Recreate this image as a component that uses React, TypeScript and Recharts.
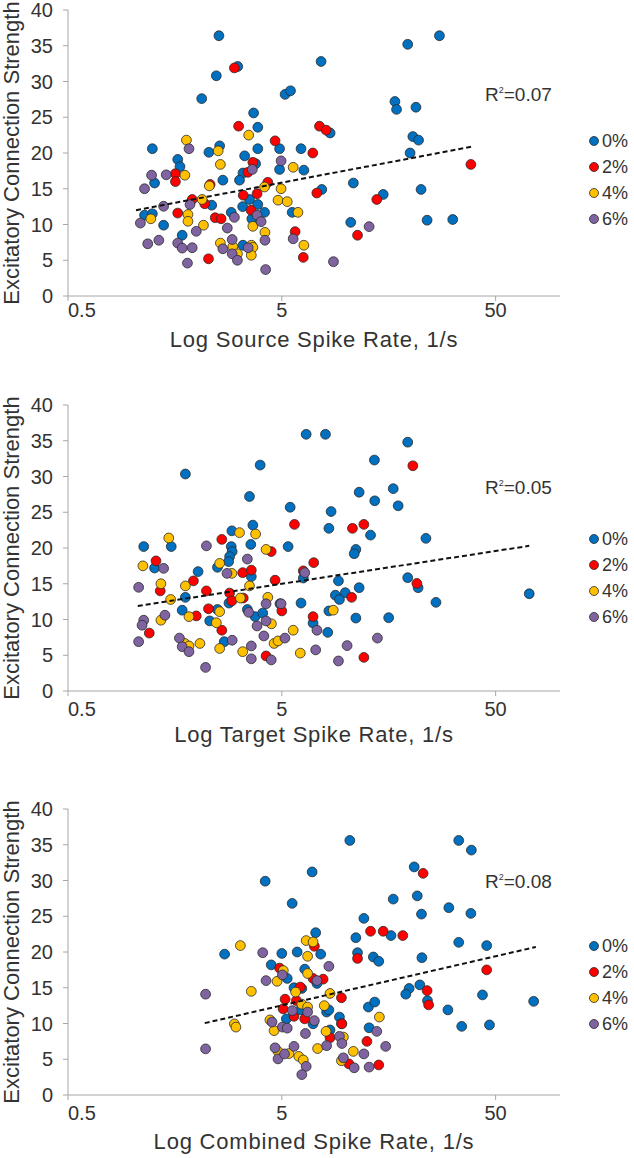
import React from 'react';
import { ScatterChart, Scatter, XAxis, YAxis, Legend, Label } from 'recharts';

const FONT = '"Liberation Sans", Arial, Helvetica, sans-serif';
const TEXT = '#333333';
const AXIS = '#a6a6a6';

const SERIES_NAMES = ['0%', '2%', '4%', '6%'];
const SERIES_COLORS = ['#0070C0', '#FF0000', '#FFC000', '#8064A2'];
const X_TICKS = [0.5, 5, 50];
const Y_TICKS = [0, 5, 10, 15, 20, 25, 30, 35, 40];
const Y_TITLE = 'Excitatory Connection Strength';
const X_TITLES = ['Log Source Spike Rate, 1/s', 'Log Target Spike Rate, 1/s', 'Log Combined Spike Rate, 1/s'];
const R2_VALUES = ['0.07', '0.05', '0.08'];

type Pt = [number, number];

// Panel 1: source spike rate
const sourceRate0: Pt[] = [[2.54,36.4],[3.11,32.1],[2.47,30.8],[2.11,27.6],[3.69,25.6],[3.86,23.6],[3.86,20.6],[1.24,20.6],[1.63,19.1],[1.67,18.1],[2.28,20.1],[2.56,21.0],[3.35,19.6],[3.77,18.5],[3.29,17.2],[3.17,16.2],[2.65,16.2],[1.27,15.8],[1.14,11.3],[1.24,11.5],[1.40,9.9],[1.71,8.5],[2.35,12.7],[2.90,11.7],[3.28,12.5],[3.53,13.5],[3.86,12.8],[4.15,11.7],[3.62,10.8],[3.29,7.1],[4.88,20.6],[4.88,17.7],[5.18,28.2],[5.49,28.7],[6.15,20.6],[6.34,17.6],[5.59,11.7],[7.63,32.8],[19.4,35.2],[27.3,36.4],[16.9,27.2],[17.2,26.1],[21.2,26.4],[20.5,22.3],[21.8,21.8],[19.9,20.0],[8.41,22.8],[7.69,14.9],[10.8,15.8],[14.9,14.2],[22.4,14.9],[10.5,10.3],[23.9,10.6],[31.5,10.7]];
const sourceRate2: Pt[] = [[3.0,31.9],[3.14,23.75],[4.65,21.7],[3.66,18.7],[3.47,17.3],[4.30,15.9],[1.59,17.1],[1.59,16.0],[2.31,15.6],[1.905,13.5],[2.18,12.9],[1.63,11.6],[3.30,14.1],[3.83,14.3],[3.59,12.0],[2.44,10.95],[2.6,10.8],[2.27,5.2],[5.77,9.0],[6.3,5.4],[7.29,14.4],[6.98,20.0],[7.5,23.75],[8.06,23.2],[13.9,13.5],[11.3,8.5],[38.3,18.4]];
const sourceRate4: Pt[] = [[1.79,21.8],[3.5,22.5],[2.52,20.3],[2.58,18.4],[1.76,16.9],[2.29,15.4],[2.12,13.5],[1.22,10.8],[1.82,11.4],[1.82,10.45],[2.15,9.9],[2.58,7.4],[2.95,6.9],[3.1,5.9],[3.6,7.1],[3.66,6.8],[3.6,5.7],[3.66,9.75],[4.17,8.9],[4.15,15.25],[4.96,15.0],[4.8,13.4],[5.3,13.2],[5.65,18.0],[5.95,11.7],[6.34,7.1]];
const sourceRate6: Pt[] = [[1.84,20.6],[1.23,16.9],[1.44,16.95],[1.14,15.0],[1.40,12.55],[1.09,10.2],[1.18,7.3],[1.33,7.8],[1.63,7.4],[1.71,6.7],[1.905,6.75],[1.81,4.6],[1.99,9.05],[1.86,12.8],[2.65,6.6],[2.93,5.9],[2.78,9.5],[3.0,11.0],[2.93,7.9],[3.1,5.0],[3.48,6.75],[3.83,11.3],[4.0,10.4],[4.17,7.8],[4.2,3.7],[3.64,17.7],[4.96,18.9],[5.65,8.0],[12.8,9.7],[8.72,4.8]];
const sourceTrend: Pt[] = [[1.04,12.0],[39.0,20.9]];

// Panel 2: target spike rate
const targetRate0: Pt[] = [[1.77,30.35],[6.5,35.9],[8.0,35.9],[3.96,31.6],[3.53,27.2],[5.47,25.7],[3.66,23.2],[2.92,22.4],[3.58,20.5],[5.35,20.2],[1.13,20.2],[1.52,20.2],[2.9,20.2],[2.93,19.5],[2.85,18.8],[2.82,18.1],[1.27,17.2],[2.03,16.7],[2.5,17.3],[3.6,16.0],[1.77,13.1],[1.71,11.3],[2.3,9.8],[2.5,11.4],[2.83,12.3],[2.69,6.9],[3.45,11.4],[3.75,10.4],[4.07,10.9],[4.9,12.2],[6.15,12.3],[7.0,9.5],[13.55,32.3],[19.4,34.8],[11.5,27.8],[16.6,28.3],[13.6,26.6],[17.5,25.9],[8.5,25.1],[8.3,22.75],[13.0,21.8],[23.6,21.35],[11.1,19.8],[10.9,19.2],[6.3,15.8],[9.2,15.4],[19.4,15.85],[21.7,14.45],[11.5,14.45],[8.9,13.4],[9.9,13.75],[9.3,12.8],[26.3,12.4],[71.8,13.6],[8.3,11.2],[8.2,8.2],[11.1,10.2],[15.8,10.25]];
const targetRate2: Pt[] = [[2.62,21.2],[1.29,18.2],[1.35,14.0],[1.93,15.4],[2.22,14.0],[1.20,8.1],[1.99,10.5],[2.27,11.5],[2.62,8.5],[2.85,13.7],[2.92,12.6],[3.28,16.55],[3.6,16.9],[3.3,13.0],[4.46,19.5],[4.65,15.5],[5.0,11.2],[5.73,23.3],[7.05,17.95],[7.0,10.4],[6.3,16.8],[4.22,4.9],[20.5,31.5],[10.7,22.75],[12.1,23.3],[21.4,15.05],[10.6,13.1],[12.1,4.7]];
const targetRate4: Pt[] = [[1.48,21.4],[1.12,17.5],[1.36,15.0],[1.51,12.8],[1.36,9.9],[1.77,14.7],[1.84,10.4],[1.76,6.65],[1.84,6.3],[2.07,6.65],[2.56,17.85],[2.92,16.45],[2.56,11.1],[2.47,9.55],[2.56,5.95],[3.17,22.15],[3.77,21.95],[4.22,19.8],[3.53,14.7],[3.2,13.0],[4.3,13.1],[4.47,9.4],[3.28,5.5],[4.6,6.65],[4.8,7.0],[5.65,8.5],[6.1,5.3],[8.7,11.3]];
const targetRate6: Pt[] = [[1.07,14.5],[1.13,9.9],[1.11,9.2],[1.07,6.9],[1.40,17.15],[1.42,10.6],[2.22,20.3],[1.66,7.4],[1.71,6.2],[1.84,5.5],[2.2,3.3],[2.77,16.45],[2.93,7.1],[3.45,18.45],[3.5,11.0],[3.6,6.3],[3.6,4.5],[3.83,9.1],[4.22,12.2],[4.22,9.8],[4.12,7.7],[4.46,4.35],[4.96,12.2],[5.17,7.4],[6.4,16.55],[7.2,5.75],[7.3,8.5],[10.1,6.35],[9.2,4.2],[14.0,7.4]];
const targetTrend: Pt[] = [[1.06,11.9],[71.8,20.3]];

// Panel 3: combined spike rate
const combinedRate0: Pt[] = [[4.18,29.9],[6.93,31.2],[5.59,26.8],[2.70,19.7],[5.0,19.8],[5.9,20.0],[4.46,18.2],[5.3,16.3],[6.4,17.6],[7.2,22.7],[7.6,19.7],[7.3,15.6],[5.25,10.65],[6.2,14.9],[7.0,9.95],[6.1,11.9],[5.7,15.0],[8.1,11.6],[9.3,10.9],[10.4,35.6],[33.6,35.6],[38.5,34.25],[20.8,31.9],[16.6,27.4],[21.5,27.85],[22.5,25.3],[30.2,26.2],[38.3,25.4],[12.1,24.7],[11.1,22.0],[16.2,22.3],[33.6,21.35],[45.4,20.9],[11.3,19.9],[13.4,19.3],[14.2,18.7],[22.6,19.2],[22.1,15.4],[19.7,14.9],[19.0,14.1],[24.0,13.2],[43.4,14.0],[75.3,13.1],[29.9,11.9],[34.7,9.6],[46.8,9.8],[12.7,12.3],[13.6,13.0],[9.5,10.0],[12.8,9.4],[8.3,11.9],[8.4,9.1]];
const combinedRate2: Pt[] = [[4.88,17.75],[5.18,13.4],[5.07,12.05],[6.1,15.1],[5.85,13.2],[5.7,11.0],[6.4,10.65],[7.0,16.3],[7.1,20.8],[22.9,31.0],[13.0,22.9],[14.9,22.9],[18.4,22.3],[11.3,19.1],[45.4,17.5],[7.8,16.2],[9.5,13.6],[23.9,14.6],[24.3,12.6],[9.55,9.95],[8.4,8.0],[12.5,7.5],[10.3,4.35],[14.2,4.2]];
const combinedRate4: Pt[] = [[3.2,20.9],[3.6,14.5],[3.0,9.95],[3.05,9.5],[4.4,10.5],[4.6,9.0],[4.75,15.9],[5.08,17.4],[6.5,21.6],[7.0,21.4],[6.6,19.4],[6.6,17.0],[5.8,14.4],[6.2,12.7],[6.6,12.3],[4.8,6.1],[5.4,5.8],[6.0,5.4],[6.3,4.9],[7.35,6.5],[8.4,14.2],[7.9,12.5],[8.05,8.9],[9.7,8.1],[10.8,6.1],[9.5,4.8],[14.3,10.9]];
const combinedRate6: Pt[] = [[2.2,14.1],[2.2,6.45],[4.07,19.9],[4.22,16.0],[5.03,16.8],[4.5,10.2],[4.65,6.6],[4.8,5.05],[5.15,5.75],[5.03,9.5],[5.3,9.35],[5.7,6.8],[5.6,11.8],[6.6,11.6],[6.45,8.6],[6.5,4.0],[6.2,2.85],[7.1,10.4],[7.3,16.0],[8.3,18.0],[9.3,8.2],[9.55,7.2],[13.9,8.9],[15.3,6.8],[12.1,5.75],[9.7,5.2],[10.9,3.8],[12.8,3.9],[8.1,6.9]];
const combinedTrend: Pt[] = [[2.18,10.05],[77.1,20.7]];

const toRows = (pts: Pt[]) => pts.map(([x, y]) => ({ x, y }));

const Dot = (props: any) => {
  const { cx, cy, fill } = props;
  if (cx == null || cy == null) return <g />;
  return <circle cx={cx} cy={cy} r={4.9} fill={fill} stroke="#2b2b2b" strokeWidth={0.8} />;
};

const XTick = (props: any) => {
  const { x, y, payload, index } = props;
  return (
    <text x={x} y={y} dy="0.71em" textAnchor={index === 0 ? 'start' : 'middle'} fill={TEXT} fontSize={20}>
      {payload.value}
    </text>
  );
};

const renderLegend = (props: any) => {
  const items = (props.payload || []).filter((p: any) => SERIES_NAMES.includes(p.value));
  return (
    <div style={{ fontFamily: FONT }}>
      {items.map((it: any) => (
        <div key={it.value} style={{ display: 'flex', alignItems: 'center', height: 26 }}>
          <svg width={12} height={12} style={{ display: 'block' }}>
            <circle cx={6} cy={6} r={4.5} fill={it.color} stroke="#2b2b2b" strokeWidth={0.8} />
          </svg>
          <span style={{ fontSize: 18, color: TEXT, marginLeft: 2, lineHeight: '26px' }}>{it.value}</span>
        </div>
      ))}
    </div>
  );
};

interface PanelProps {
  top: number;
  title: string;
  series: Pt[][];
  trend: Pt[];
  r2: string;
  r2Top: number;
  legendTop: number;
  tickGap: number;
  titleOffset: number;
}

function Panel({ top, title, series, trend, r2, r2Top, legendTop, tickGap, titleOffset }: PanelProps) {
  return (
    <div style={{ position: 'absolute', left: 0, top, width: 634, height: 356 }}>
      <ScatterChart width={634} height={356} margin={{ top: 10, right: 74, bottom: 0, left: 0 }}>
        <XAxis
          type="number"
          dataKey="x"
          scale="log"
          domain={[0.5, 100]}
          ticks={X_TICKS}
          allowDataOverflow
          interval={0}
          height={60}
          stroke={AXIS}
          tickSize={5}
          tickMargin={tickGap}
          tick={<XTick />}
        >
          <Label value={title} position="insideBottom" offset={titleOffset} style={{ fill: TEXT, fontSize: 22, letterSpacing: '0.8px' }} />
        </XAxis>
        <YAxis
          type="number"
          dataKey="y"
          domain={[0, 40]}
          ticks={Y_TICKS}
          interval={0}
          width={68}
          stroke={AXIS}
          tickSize={5}
          tickMargin={10}
          tick={{ fill: TEXT, fontSize: 20 }}
        >
          <Label value={Y_TITLE} angle={-90} position="insideLeft" offset={11} style={{ fill: TEXT, fontSize: 22, textAnchor: 'middle' }} />
        </YAxis>
        {series.map((pts, i) => (
          <Scatter
            key={SERIES_NAMES[i]}
            name={SERIES_NAMES[i]}
            data={toRows(pts)}
            fill={SERIES_COLORS[i]}
            shape={<Dot />}
            isAnimationActive={false}
          />
        ))}
        <Scatter
          name="trend"
          data={toRows(trend)}
          legendType="none"
          fill="#000"
          line={{ stroke: '#111', strokeWidth: 2, strokeDasharray: '5 3' }}
          lineType="joint"
          shape={() => <g />}
          isAnimationActive={false}
        />
        <Legend
          layout="horizontal"
          verticalAlign="middle"
          align="center"
          content={renderLegend}
          wrapperStyle={{ left: 588, top: legendTop, width: 46 }}
        />
      </ScatterChart>
      <div
        style={{
          position: 'absolute',
          left: 485,
          top: r2Top,
          fontSize: 19,
          lineHeight: '19px',
          color: TEXT,
          fontFamily: FONT,
          whiteSpace: 'nowrap',
        }}
      >
        R<span style={{ fontSize: 9, lineHeight: '9px', verticalAlign: 'top', position: 'relative', top: 1 }}>2</span>={r2}
      </div>
    </div>
  );
}

export default function App() {
  return (
    <div style={{ position: 'absolute', left: 0, top: 0, width: 634, height: 1158, background: '#fff', fontFamily: FONT, overflow: 'hidden' }}>
      <Panel top={0} title={X_TITLES[0]} series={[sourceRate0, sourceRate2, sourceRate4, sourceRate6]} trend={sourceTrend} r2={R2_VALUES[0]} r2Top={85} legendTop={128} tickGap={2} titleOffset={9} />
      <Panel top={395} title={X_TITLES[1]} series={[targetRate0, targetRate2, targetRate4, targetRate6]} trend={targetTrend} r2={R2_VALUES[1]} r2Top={83} legendTop={131} tickGap={6} titleOffset={9} />
      <Panel top={799} title={X_TITLES[2]} series={[combinedRate0, combinedRate2, combinedRate4, combinedRate6]} trend={combinedTrend} r2={R2_VALUES[2]} r2Top={73} legendTop={134} tickGap={6} titleOffset={6} />
    </div>
  );
}
